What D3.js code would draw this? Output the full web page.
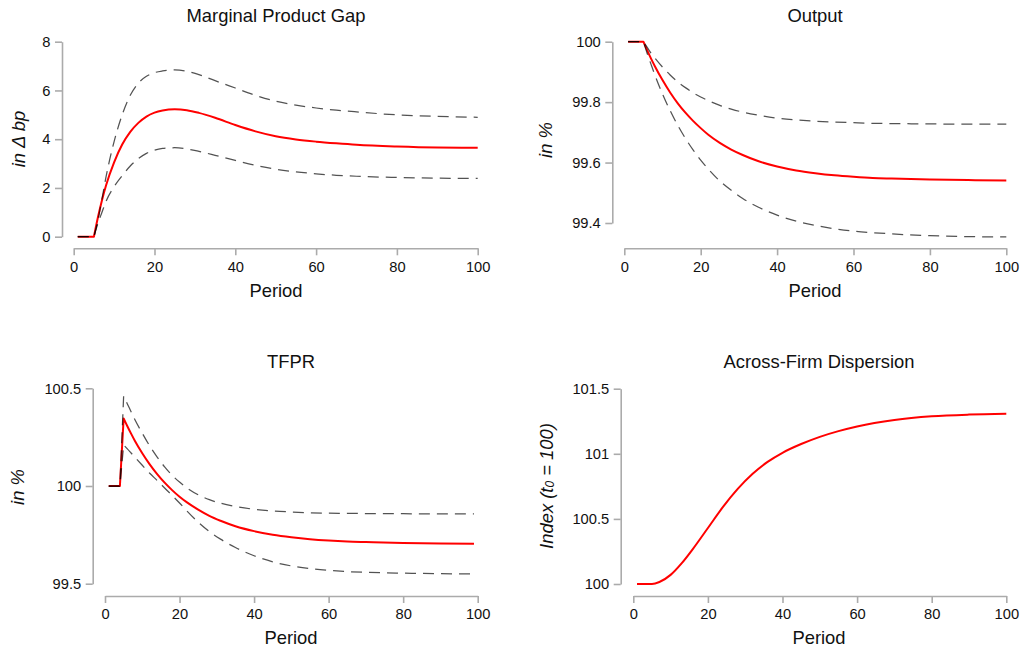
<!DOCTYPE html>
<html>
<head>
<meta charset="utf-8">
<script src="https://cdn.jsdelivr.net/npm/d3@7/dist/d3.min.js"></script>
<style>
  html, body { margin: 0; padding: 0; background: #fff; }
  svg { display: block; font-family: "Liberation Sans", Arial, sans-serif; }
</style>
</head>
<body>
<svg id="chart" width="1020" height="648"></svg>
<script>
// ---- Impulse responses (median and bands), by period ----
const xTicks = [0, 20, 40, 60, 80, 100];

const periodsMPG = [1, 5, 6, 7, 8, 10, 12, 14, 16, 18, 20, 22, 25, 28, 31, 35, 40, 45, 50, 55, 60, 65, 70, 80, 90, 100];
const mpgMedian = [0, 0, 0.8, 1.5, 2.1, 3.05, 3.78, 4.3, 4.67, 4.93, 5.09, 5.18, 5.23, 5.19, 5.08, 4.88, 4.58, 4.32, 4.12, 3.99, 3.9, 3.83, 3.77, 3.7, 3.66, 3.65];
const mpgUpper  = [0, 0, 0.68, 1.55, 2.45, 3.9, 5.0, 5.8, 6.3, 6.58, 6.73, 6.8, 6.84, 6.79, 6.65, 6.4, 6.1, 5.8, 5.56, 5.4, 5.28, 5.19, 5.12, 5.0, 4.94, 4.9];
const mpgLower  = [0, 0, 0.55, 1.0, 1.45, 2.05, 2.5, 2.9, 3.2, 3.42, 3.55, 3.62, 3.65, 3.6, 3.5, 3.34, 3.13, 2.93, 2.77, 2.66, 2.58, 2.52, 2.48, 2.43, 2.4, 2.39];
const mpgTicks  = [0, 2, 4, 6, 8];

const periodsOutput = [1, 5, 6, 7, 8, 10, 12, 14, 16, 18, 20, 22, 25, 28, 31, 35, 40, 45, 50, 55, 60, 65, 70, 80, 90, 100];
const outputMedian = [100, 100, 99.971, 99.944, 99.919, 99.873, 99.832, 99.796, 99.765, 99.738, 99.714, 99.692, 99.665, 99.643, 99.625, 99.605, 99.587, 99.574, 99.565, 99.558, 99.553, 99.549, 99.547, 99.544, 99.542, 99.541];
const outputUpper  = [100, 100, 99.981, 99.962, 99.946, 99.916, 99.89, 99.867, 99.848, 99.831, 99.817, 99.805, 99.789, 99.777, 99.767, 99.757, 99.747, 99.741, 99.737, 99.734, 99.732, 99.73, 99.729, 99.728, 99.727, 99.727];
const outputLower  = [100, 100, 99.961, 99.925, 99.89, 99.827, 99.772, 99.723, 99.68, 99.642, 99.608, 99.578, 99.539, 99.508, 99.481, 99.453, 99.426, 99.406, 99.392, 99.381, 99.373, 99.368, 99.364, 99.358, 99.355, 99.354];
const outputTicks  = [99.4, 99.6, 99.8, 100];

const periodsTFPR = [1, 4, 5, 6, 7, 8, 10, 12, 14, 16, 18, 20, 22, 25, 28, 31, 35, 40, 45, 50, 55, 60, 65, 70, 80, 90, 99];
const tfprMedian = [100, 100, 100.346, 100.306, 100.268, 100.232, 100.168, 100.111, 100.061, 100.017, 99.979, 99.945, 99.916, 99.879, 99.847, 99.822, 99.794, 99.769, 99.751, 99.738, 99.728, 99.721, 99.716, 99.713, 99.708, 99.706, 99.705];
const tfprUpper  = [100, 100, 100.46, 100.42, 100.38, 100.34, 100.27, 100.205, 100.148, 100.098, 100.055, 100.02, 99.99, 99.955, 99.93, 99.912, 99.895, 99.881, 99.872, 99.867, 99.863, 99.861, 99.86, 99.859, 99.858, 99.857, 99.857];
const tfprLower  = [100, 100, 100.21, 100.19, 100.169, 100.148, 100.106, 100.065, 100.028, 99.99, 99.952, 99.913, 99.872, 99.815, 99.767, 99.728, 99.685, 99.643, 99.612, 99.591, 99.577, 99.568, 99.562, 99.558, 99.554, 99.551, 99.55];
const tfprTicks  = [99.5, 100, 100.5];

const periodsDisp = [1, 5, 7, 10, 13, 16, 20, 24, 28, 32, 36, 40, 45, 50, 55, 60, 70, 80, 90, 100];
const dispMedian  = [100, 100, 100.015, 100.07, 100.16, 100.27, 100.43, 100.59, 100.73, 100.846, 100.938, 101.008, 101.075, 101.13, 101.174, 101.21, 101.26, 101.288, 101.301, 101.307];
const dispTicks   = [100, 100.5, 101, 101.5];

// ---- Panel layout ----
const panels = [
  { title: "Marginal Product Gap", label: [{ t: "in \u0394 bp" }],
    periods: periodsMPG, median: mpgMedian, upper: mpgUpper, lower: mpgLower, ticks: mpgTicks, shockAt: 5,
    xr: [73.7, 477.7], yd: [0, 8], yr: [236.7, 41.7], yAxisX: 62, xAxisY: 248.3,
    titlePos: [276, 22], labelPos: [18, 139] },
  { title: "Output", label: [{ t: "in %" }],
    periods: periodsOutput, median: outputMedian, upper: outputUpper, lower: outputLower, ticks: outputTicks, shockAt: 5,
    xr: [624.3, 1006.3], yd: [99.4, 100], yr: [223, 41.7], yAxisX: 612.3, xAxisY: 248.3,
    titlePos: [815, 22], labelPos: [545, 140] },
  { title: "TFPR", label: [{ t: "in %" }],
    periods: periodsTFPR, median: tfprMedian, upper: tfprUpper, lower: tfprLower, ticks: tfprTicks, shockAt: 5,
    xr: [105, 477.7], yd: [99.5, 100.5], yr: [583.7, 388.3], yAxisX: 92.7, xAxisY: 596,
    titlePos: [291, 368], labelPos: [17, 487] },
  { title: "Across-Firm Dispersion", label: [{ t: "Index (t" }, { t: "0", sub: true }, { t: " = 100)" }],
    periods: periodsDisp, median: dispMedian, upper: null, lower: null, ticks: dispTicks, shockAt: null,
    xr: [633.3, 1006.3], yd: [100, 101.5], yr: [584, 388.7], yAxisX: 620.7, xAxisY: 596,
    titlePos: [819, 368], labelPos: [546, 486] }
];

const svg = d3.select("#chart");
const AXIS_COLOR = "#ababab";
const fmt = d => String(+d.toFixed(2));

// Linear up to the shock period (sharp kink), smooth monotone afterwards.
function pathFor(xs, ys, x, y, shockAt) {
  const pts = xs.map((p, i) => [x(p), y(ys[i])]);
  const smooth = d3.line().curve(d3.curveMonotoneX);
  if (shockAt == null) return smooth(pts);
  const k = xs.indexOf(shockAt);
  const pre = d3.line().curve(d3.curveLinear)(pts.slice(0, k + 1));
  const post = smooth(pts.slice(k));
  return pre + post.replace(/^M/, "L");
}

panels.forEach(pn => {
  const g = svg.append("g");
  const x = d3.scaleLinear().domain([0, 100]).range(pn.xr);
  const y = d3.scaleLinear().domain(pn.yd).range(pn.yr);

  // x axis
  const xa = g.append("g").attr("transform", `translate(0,${pn.xAxisY})`)
    .call(d3.axisBottom(x).tickValues(xTicks).tickFormat(fmt).tickSize(7).tickSizeOuter(0).tickPadding(6));
  // y axis
  const ya = g.append("g").attr("transform", `translate(${pn.yAxisX},0)`)
    .call(d3.axisLeft(y).tickValues(pn.ticks).tickFormat(fmt).tickSize(7).tickSizeOuter(0).tickPadding(4.5));
  [xa, ya].forEach(a => {
    a.select(".domain").attr("stroke", AXIS_COLOR).attr("stroke-width", 1.6);
    a.selectAll(".tick line").attr("stroke", AXIS_COLOR).attr("stroke-width", 1.6);
    a.selectAll(".tick text").attr("fill", "#111").style("font-size", "14.7px")
      .style("font-family", '"Liberation Sans", Arial, sans-serif');
  });

  // median response
  g.append("path")
    .attr("d", pathFor(pn.periods, pn.median, x, y, pn.shockAt))
    .attr("fill", "none").attr("stroke", "#ff0000").attr("stroke-width", 2)
    .attr("stroke-linejoin", "round");

  // confidence bands
  [pn.upper, pn.lower].forEach(band => {
    if (!band) return;
    g.append("path")
      .attr("d", pathFor(pn.periods, band, x, y, pn.shockAt))
      .attr("fill", "none").attr("stroke", "#000").attr("stroke-opacity", 0.68)
      .attr("stroke-width", 1.25).attr("stroke-dasharray", "11,7");
  });

  // title
  g.append("text").attr("x", pn.titlePos[0]).attr("y", pn.titlePos[1])
    .attr("text-anchor", "middle").style("font-size", "18.4px").attr("fill", "#111")
    .text(pn.title);

  // x label
  g.append("text").attr("x", pn.titlePos[0]).attr("y", pn.xAxisY + 48.4)
    .attr("text-anchor", "middle").style("font-size", "18.4px").attr("fill", "#111")
    .text("Period");

  // y label (italic, rotated)
  const yl = g.append("text")
    .attr("transform", `translate(${pn.labelPos[0]},${pn.labelPos[1]}) rotate(-90)`)
    .attr("text-anchor", "middle").attr("dominant-baseline", "central")
    .style("font-size", "18.4px").style("font-style", "italic").attr("fill", "#111");
  pn.label.forEach(part => {
    const ts = yl.append("tspan").text(part.t);
    if (part.sub) ts.style("font-size", "12px").attr("dy", "4");
    else if (yl.selectAll("tspan").size() > 1) ts.attr("dy", "-4");
  });
});
</script>
</body>
</html>
